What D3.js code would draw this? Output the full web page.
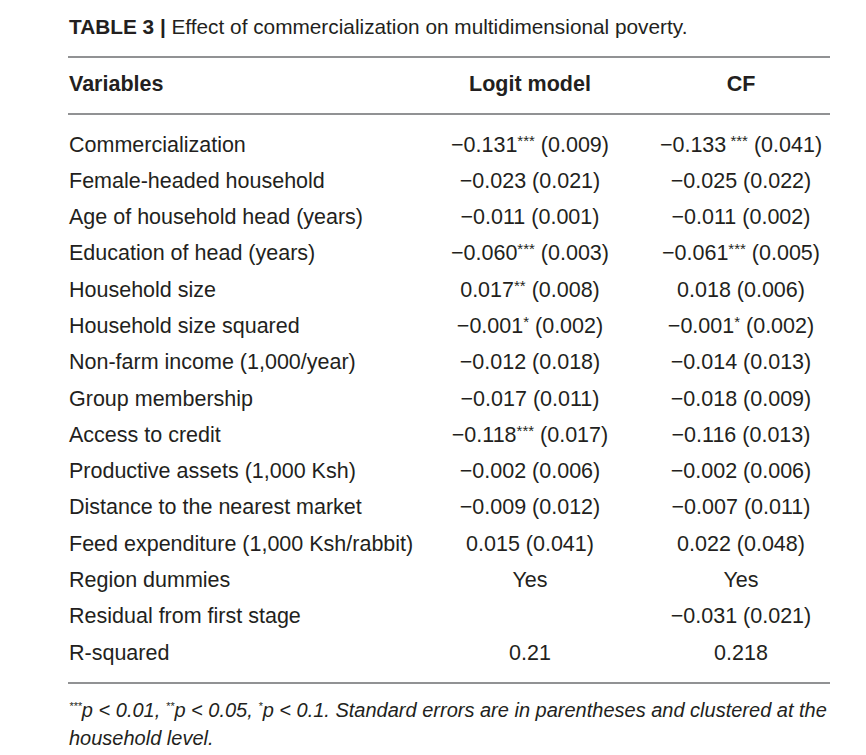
<!DOCTYPE html>
<html>
<head>
<meta charset="utf-8">
<script src="https://cdn.jsdelivr.net/npm/d3@7"></script>
<style>
  body { margin: 0; background: #fff; }
  svg text { font-family: "Liberation Sans", Arial, sans-serif; fill: #231f20; }
</style>
</head>
<body>
<svg id="chart"></svg>
<script>
const variables = [
  'Commercialization', 'Female-headed household', 'Age of household head (years)',
  'Education of head (years)', 'Household size', 'Household size squared',
  'Non-farm income (1,000/year)', 'Group membership', 'Access to credit',
  'Productive assets (1,000 Ksh)', 'Distance to the nearest market',
  'Feed expenditure (1,000 Ksh/rabbit)', 'Region dummies',
  'Residual from first stage', 'R-squared'
];
const logitEst = ['−0.131', '−0.023', '−0.011', '−0.060', '0.017', '−0.001', '−0.012',
  '−0.017', '−0.118', '−0.002', '−0.009', '0.015', 'Yes', '', '0.21'];
const logitStars = ['***', '', '', '***', '**', '*', '', '', '***', '', '', '', '', '', ''];
const logitSE = ['0.009', '0.021', '0.001', '0.003', '0.008', '0.002', '0.018',
  '0.011', '0.017', '0.006', '0.012', '0.041', '', '', ''];
const cfEst = ['−0.133', '−0.025', '−0.011', '−0.061', '0.018', '−0.001', '−0.014',
  '−0.018', '−0.116', '−0.002', '−0.007', '0.022', 'Yes', '−0.031', '0.218'];
const cfStars = [' ***', '', '', '***', '', '*', '', '', '', '', '', '', '', '', ''];
const cfSE = ['0.041', '0.022', '0.002', '0.005', '0.006', '0.002', '0.013',
  '0.009', '0.013', '0.006', '0.011', '0.048', '', '0.021', ''];
const columns = ['Variables', 'Logit model', 'CF'];

const width = 866, height = 755;
const left = 69, right = 830;
const fs = 21.5;

const svg = d3.select('#chart')
  .attr('width', width)
  .attr('height', height);

// Title
const title = svg.append('text')
  .attr('x', left)
  .attr('y', 34)
  .attr('font-size', 20.8);
title.append('tspan').attr('font-weight', 'bold').text('TABLE 3 | ');
title.append('tspan').text('Effect of commercialization on multidimensional poverty.');

// Rules
const rules = [57, 114, 683];
svg.selectAll('line.rule')
  .data(rules)
  .join('line')
  .attr('class', 'rule')
  .attr('x1', left - 1)
  .attr('x2', right)
  .attr('y1', d => d)
  .attr('y2', d => d)
  .attr('stroke', '#6d6e71')
  .attr('stroke-width', 1.4);

// Column positions
const colX = d3.scaleOrdinal()
  .domain(columns)
  .range([left, 530, 741]);

// Header
svg.selectAll('text.header')
  .data(columns)
  .join('text')
  .attr('class', 'header')
  .attr('x', d => colX(d))
  .attr('y', 91)
  .attr('font-size', 21.5)
  .attr('font-weight', 'bold')
  .attr('text-anchor', (d, i) => i === 0 ? 'start' : 'middle')
  .text(d => d);

// Rows
const y = d3.scalePoint()
  .domain(variables)
  .range([144, 652]);

const rows = svg.selectAll('g.row')
  .data(variables)
  .join('g')
  .attr('class', 'row')
  .attr('transform', d => `translate(0, ${y(d)})`);

rows.append('text')
  .attr('x', colX('Variables'))
  .attr('dy', '0.35em')
  .attr('font-size', fs)
  .text(d => d);

const addCell = (sel, col, est, stars, se) => {
  const t = sel.append('text')
    .attr('x', colX(col))
    .attr('dy', '0.35em')
    .attr('font-size', fs)
    .attr('text-anchor', 'middle');
  t.append('tspan').text((d, i) => est[i]);
  t.append('tspan')
    .attr('font-size', 15)
    .attr('dy', '-0.4em')
    .text((d, i) => stars[i]);
  t.append('tspan')
    .attr('dy', (d, i) => stars[i] ? '0.28em' : null)
    .text((d, i) => se[i] ? ` (${se[i]})` : '');
};

addCell(rows, 'Logit model', logitEst, logitStars, logitSE);
addCell(rows, 'CF', cfEst, cfStars, cfSE);

// Footnote
const note1 = svg.append('text')
  .attr('x', left)
  .attr('y', 717)
  .attr('font-size', 20)
  .attr('font-style', 'italic');
const noteParts = [
  ['***', true], ['p < 0.01, ', false], ['**', true], ['p < 0.05, ', false],
  ['*', true], ['p < 0.1. Standard errors are in parentheses and clustered at the', false]
];
noteParts.forEach(([s, sup]) => {
  note1.append('tspan')
    .attr('font-size', sup ? 11 : 20)
    .attr('baseline-shift', sup ? '60%' : null)
    .text(s);
});

svg.append('text')
  .attr('x', left)
  .attr('y', 745)
  .attr('font-size', 20)
  .attr('font-style', 'italic')
  .text('household level.');
</script>
</body>
</html>
